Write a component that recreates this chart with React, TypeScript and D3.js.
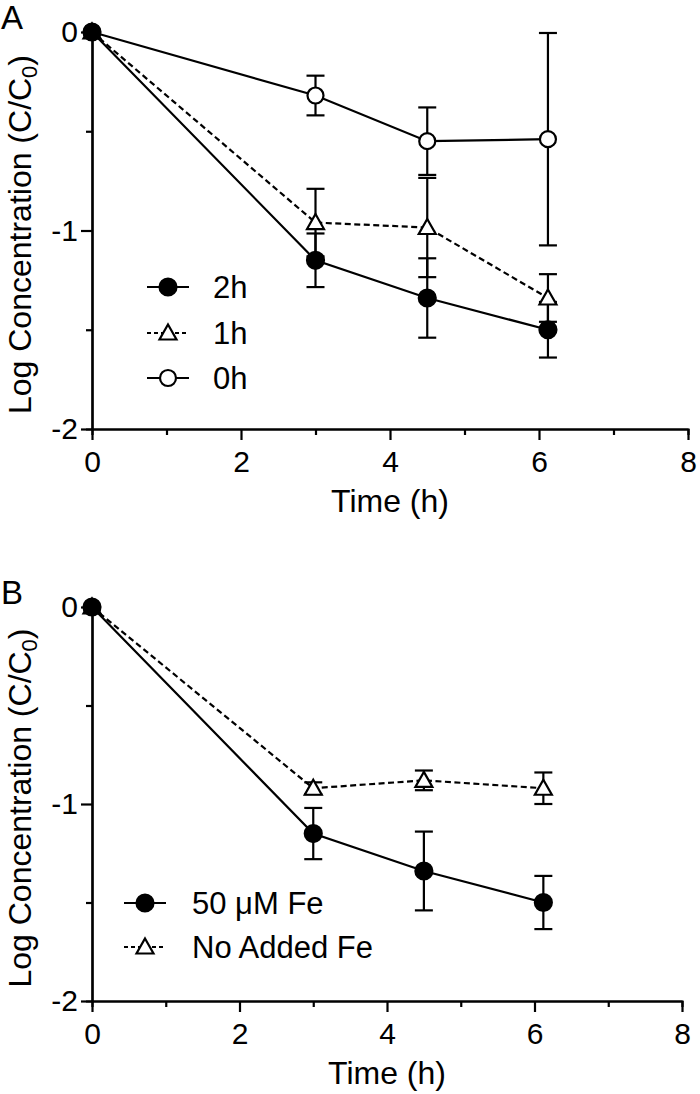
import { select, scaleLinear, axisBottom, axisLeft, line, range } from "d3";
import { useRef, useEffect } from "react";

// sampling times (h)
const times = [0, 3, 4.5, 6.12];

// panel A: pre-incubation time
const a2h = [0, -1.15, -1.34, -1.5];
const a2hErr = [0, 0.135, 0.2, 0.14];
const a1h = [0, -0.96, -0.985, -1.34];
const a1hErr = [0, 0.17, 0.25, 0.12];
const a0h = [0, -0.32, -0.55, -0.54];
const a0hErr = [0, 0.1, 0.17, 0.535];

// panel B: iron addition
const bFe = [0, -1.15, -1.34, -1.5];
const bFeErr = [0, 0.13, 0.2, 0.135];
const bNoFe = [0, -0.92, -0.88, -0.92];
const bNoFeErr = [0, 0.03, 0.05, 0.08];

const xTicks = [0, 2, 4, 6, 8];
const yTicks = [0, -1, -2];

const FONT = "'Liberation Sans', Arial, Helvetica, sans-serif";

type Series = {
  name: string;
  values: number[];
  errors: number[];
  marker: "filled" | "triangle" | "open";
  dashed: boolean;
};

const panels = [
  {
    letter: "A",
    top: 32,
    bottom: 429,
    right: 688,
    legendX: 147,
    legendY: [287, 333, 378],
    legendTextX: 213,
    series: [
      { name: "0h", values: a0h, errors: a0hErr, marker: "open", dashed: false },
      { name: "1h", values: a1h, errors: a1hErr, marker: "triangle", dashed: true },
      { name: "2h", values: a2h, errors: a2hErr, marker: "filled", dashed: false },
    ] as Series[],
    legendOrder: ["2h", "1h", "0h"],
  },
  {
    letter: "B",
    top: 607,
    bottom: 1001,
    right: 682,
    legendX: 124,
    legendY: [903, 947],
    legendTextX: 192,
    series: [
      { name: "No Added Fe", values: bNoFe, errors: bNoFeErr, marker: "triangle", dashed: true },
      { name: "50 μM Fe", values: bFe, errors: bFeErr, marker: "filled", dashed: false },
    ] as Series[],
    legendOrder: ["50 μM Fe", "No Added Fe"],
  },
];

function drawMarker(g: any, kind: string, cx: number, cy: number) {
  if (kind === "triangle") {
    const w = 8.5;
    g.append("path")
      .attr("d", `M${cx},${cy - 8.5}L${cx + w},${cy + 6.5}L${cx - w},${cy + 6.5}Z`)
      .attr("fill", "white")
      .attr("stroke", "black")
      .attr("stroke-width", 2.2);
  } else {
    g.append("circle")
      .attr("cx", cx)
      .attr("cy", cy)
      .attr("r", kind === "filled" ? 8.5 : 8)
      .attr("fill", kind === "filled" ? "black" : "white")
      .attr("stroke", "black")
      .attr("stroke-width", 2.2);
  }
}

export default function App() {
  const svgRef = useRef<SVGSVGElement>(null);

  useEffect(() => {
    const svg = select(svgRef.current);
    svg.selectAll("*").remove();

    panels.forEach((p) => {
      const x = scaleLinear().domain([0, 8]).range([92, p.right]);
      const y = scaleLinear().domain([-2, 0]).range([p.bottom, p.top]);
      const g = svg.append("g");

      // panel letter
      g.append("text")
        .attr("x", 1)
        .attr("y", p.top - 3)
        .attr("font-size", 33)
        .attr("font-family", FONT)
        .text(p.letter);

      // minor ticks
      const xMinor = axisBottom(x).tickValues(range(1, 8, 2)).tickSize(6).tickFormat(() => "");
      g.append("g").attr("transform", `translate(0,${p.bottom})`).call(xMinor);
      const yMinor = axisLeft(y).tickValues([-0.5, -1.5]).tickSize(6).tickFormat(() => "");
      g.append("g").attr("transform", `translate(92,0)`).call(yMinor);

      // major axes
      const xAxis = axisBottom(x).tickValues(xTicks).tickSize(11).tickSizeOuter(0).tickPadding(11);
      g.append("g").attr("class", "axis").attr("transform", `translate(0,${p.bottom})`).call(xAxis);
      const yAxis = axisLeft(y)
        .tickValues(yTicks)
        .tickSize(11)
        .tickSizeOuter(0)
        .tickPadding(3)
        .tickFormat((d: any) => (d === 0 ? "0" : String(d)));
      g.append("g").attr("class", "axis").attr("transform", `translate(92,0)`).call(yAxis);

      g.selectAll(".tick line").attr("stroke", "black").attr("stroke-width", 2.2);
      g.selectAll(".domain").attr("stroke", "black").attr("stroke-width", 2.2);
      g.selectAll(".tick text")
        .attr("font-size", 30)
        .attr("font-family", FONT)
        .attr("fill", "black");

      // axis titles
      g.append("text")
        .attr("x", x(4))
        .attr("y", p.bottom + 83)
        .attr("text-anchor", "middle")
        .attr("font-size", 32)
        .attr("font-family", FONT)
        .text("Time (h)");

      const yt = g
        .append("text")
        .attr("transform", `translate(31,${(p.top + p.bottom) / 2 + 4}) rotate(-90)`)
        .attr("text-anchor", "middle")
        .attr("font-size", 32)
        .attr("font-family", FONT);
      yt.append("tspan").text("Log Concentration (C/C");
      yt.append("tspan").attr("font-size", 22).attr("dy", 6).text("0");
      yt.append("tspan").attr("dy", -6).text(")");

      const lineGen = line<number>()
        .x((_, i) => x(times[i]))
        .y((d) => y(d));

      // lines
      p.series.forEach((s) => {
        g.append("path")
          .attr("d", lineGen(s.values))
          .attr("fill", "none")
          .attr("stroke", "black")
          .attr("stroke-width", 2.2)
          .attr("stroke-dasharray", s.dashed ? "6,3.5" : null);
      });

      // error bars
      p.series.forEach((s) => {
        s.values.forEach((v, i) => {
          const e = s.errors[i];
          if (!e) return;
          const cx = x(times[i]);
          const y1 = y(v + e);
          const y2 = y(v - e);
          g.append("line").attr("x1", cx).attr("x2", cx).attr("y1", y1).attr("y2", y2)
            .attr("stroke", "black").attr("stroke-width", 2.2);
          [y1, y2].forEach((yy) =>
            g.append("line").attr("x1", cx - 9).attr("x2", cx + 9).attr("y1", yy).attr("y2", yy)
              .attr("stroke", "black").attr("stroke-width", 2.2)
          );
        });
      });

      // markers
      p.series.forEach((s) => {
        s.values.forEach((v, i) => drawMarker(g, s.marker, x(times[i]), y(v)));
      });

      // legend
      p.legendOrder.forEach((name, i) => {
        const s = p.series.find((d) => d.name === name)!;
        const ly = p.legendY[i];
        g.append("line")
          .attr("x1", p.legendX)
          .attr("x2", p.legendX + 42)
          .attr("y1", ly)
          .attr("y2", ly)
          .attr("stroke", "black")
          .attr("stroke-width", 2.2)
          .attr("stroke-dasharray", s.dashed ? "4,3" : null);
        drawMarker(g, s.marker, p.legendX + 21, ly);
        g.append("text")
          .attr("x", p.legendTextX)
          .attr("y", ly + 11)
          .attr("font-size", 31)
          .attr("font-family", FONT)
          .text(name);
      });
    });
  }, []);

  return (
    <svg
      ref={svgRef}
      width={700}
      height={1094}
      style={{ position: "absolute", left: 0, top: 0, background: "white" }}
    />
  );
}
